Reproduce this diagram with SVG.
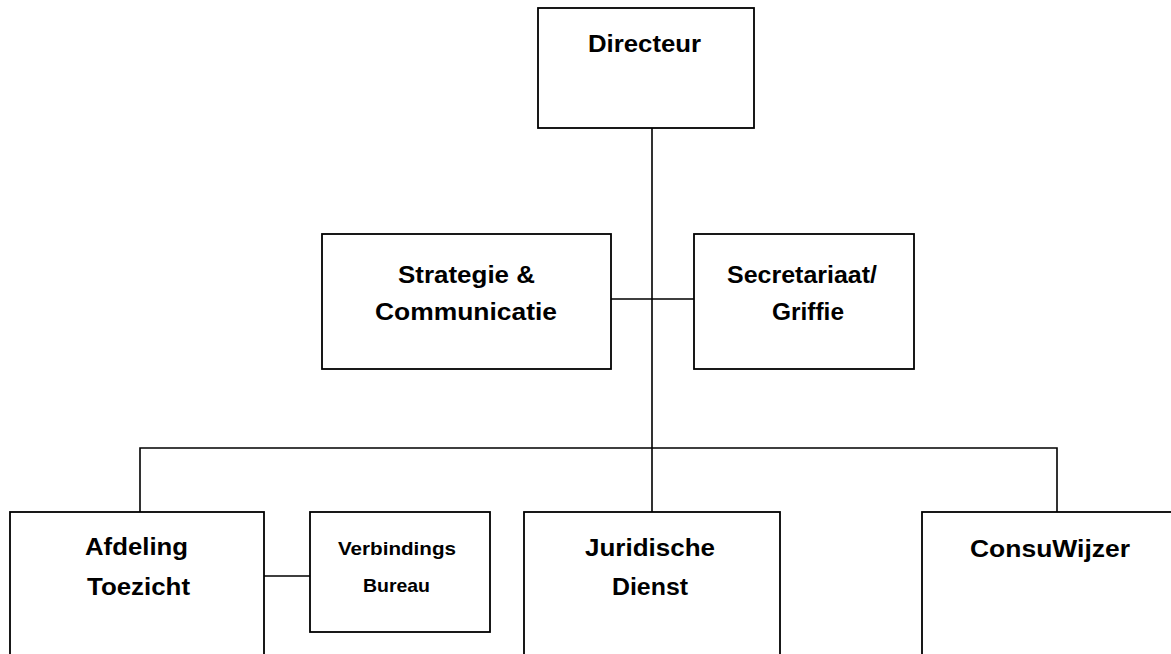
<svg xmlns="http://www.w3.org/2000/svg" width="1171" height="654" viewBox="0 0 1171 654">
<style>
.box{fill:#fff;stroke:#000;stroke-width:1.8}
.ln{fill:none;stroke:#000;stroke-width:1.6}
text{font-family:"Liberation Sans",Arial,sans-serif;font-weight:bold;font-size:23px;fill:#000}
.sm{font-size:19px}
</style>
<rect width="1171" height="654" fill="#fff"/>
<g id="connectors">
<path class="ln" d="M652 128V448M611 299H694M140 512V448H1057V512M652 448V512M264 576H310"/>
</g>
<g id="directeur">
<rect class="box" x="538" y="8" width="216" height="120"/>
<text x="588" y="52" textLength="113" lengthAdjust="spacingAndGlyphs">Directeur</text>
</g>
<g id="strategie">
<rect class="box" x="322" y="234" width="289" height="135"/>
<text x="398" y="283" textLength="137" lengthAdjust="spacingAndGlyphs">Strategie &amp;</text>
<text x="375" y="320" textLength="182" lengthAdjust="spacingAndGlyphs">Communicatie</text>
</g>
<g id="secretariaat">
<rect class="box" x="694" y="234" width="220" height="135"/>
<text x="727" y="283" textLength="150" lengthAdjust="spacingAndGlyphs">Secretariaat/</text>
<text x="772" y="320" textLength="72" lengthAdjust="spacingAndGlyphs">Griffie</text>
</g>
<g id="afdeling">
<rect class="box" x="10" y="512" width="254" height="160"/>
<text x="85" y="555" textLength="103" lengthAdjust="spacingAndGlyphs">Afdeling</text>
<text x="87" y="595" textLength="103" lengthAdjust="spacingAndGlyphs">Toezicht</text>
</g>
<g id="verbindings">
<rect class="box" x="310" y="512" width="180" height="120"/>
<text class="sm" x="338" y="555" textLength="118" lengthAdjust="spacingAndGlyphs">Verbindings</text>
<text class="sm" x="363" y="592" textLength="67" lengthAdjust="spacingAndGlyphs">Bureau</text>
</g>
<g id="juridische">
<rect class="box" x="524" y="512" width="256" height="160"/>
<text x="585" y="556" textLength="130" lengthAdjust="spacingAndGlyphs">Juridische</text>
<text x="612" y="595" textLength="76" lengthAdjust="spacingAndGlyphs">Dienst</text>
</g>
<g id="consuwijzer">
<rect class="box" x="922" y="512" width="260" height="160"/>
<text x="970" y="557" textLength="160" lengthAdjust="spacingAndGlyphs">ConsuWijzer</text>
</g>
</svg>
